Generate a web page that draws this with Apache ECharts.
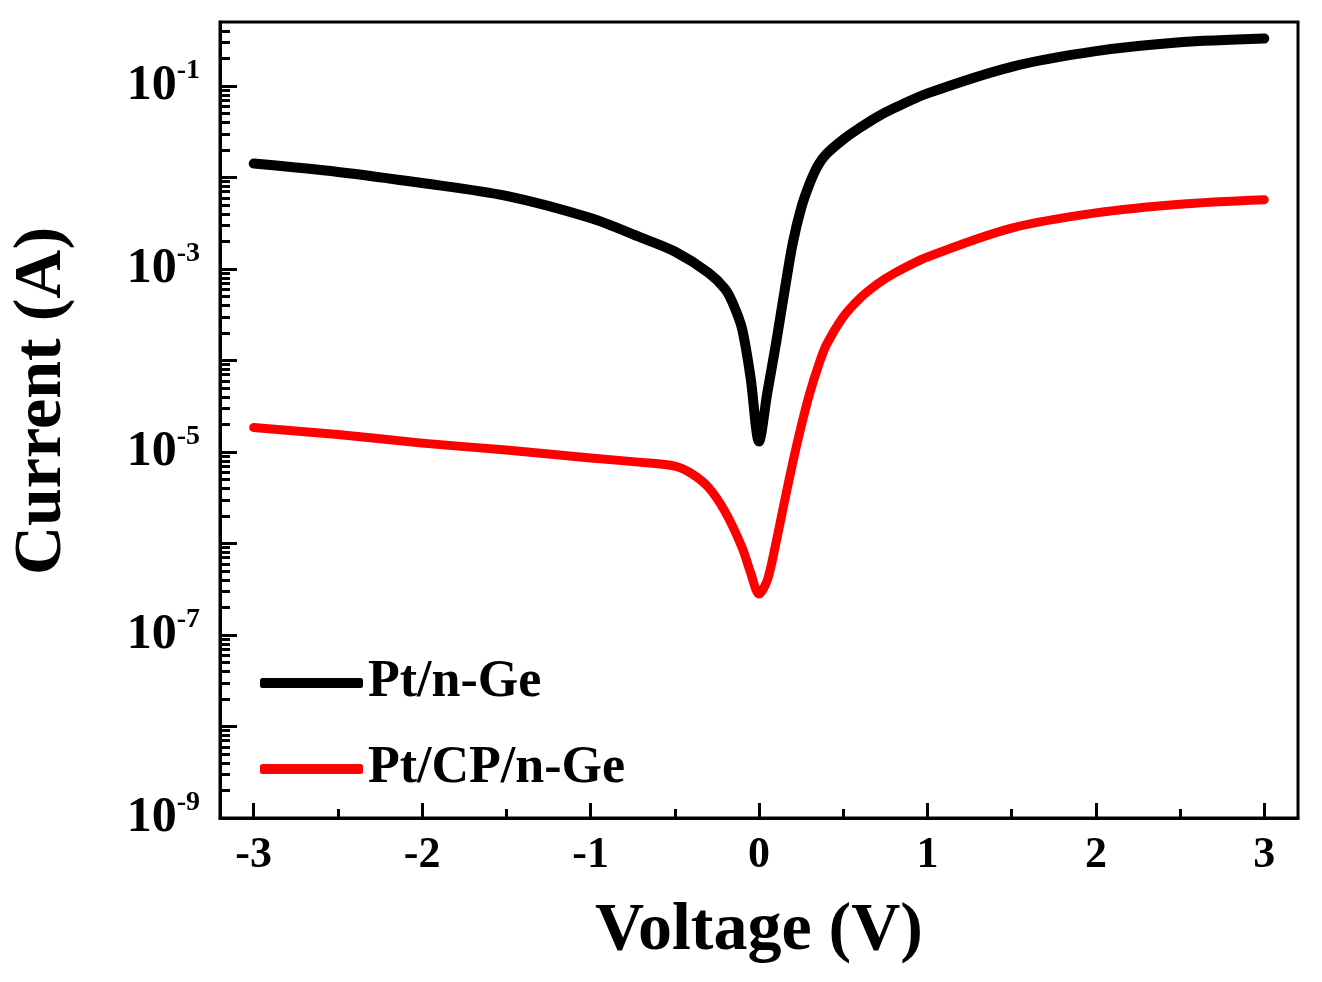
<!DOCTYPE html>
<html lang="en">
<head>
    <meta charset="UTF-8">
    <title>I-V curves</title>
    <script src="https://cdn.jsdelivr.net/npm/echarts@6/dist/echarts.min.js"></script>
    <style>
        html, body { margin: 0; padding: 0; background: #fff; }
        #main { width: 1322px; height: 982px; }
    </style>
</head>
<body>
<div id="main"></div>
<script>
    // Pt/n-Ge
    var voltageA = [-3, -2.5, -2, -1.5, -1, -0.7, -0.5, -0.3, -0.2, -0.15, -0.1, -0.05, 0,
        0.05, 0.1, 0.15, 0.2, 0.25, 0.3, 0.35, 0.4, 0.5, 0.6, 0.7, 0.8, 1, 1.5, 2, 2.5, 3];
    var currentA = [1.42e-2, 1.15e-2, 8.7e-3, 6.3e-3, 3.6e-3, 2.2e-3, 1.55e-3, 9.1e-4, 6.0e-4, 4.0e-4, 2.2e-4, 6.5e-5, 1.3e-5,
        4.5e-5, 1.5e-4, 5.5e-4, 1.9e-3, 4.6e-3, 8.5e-3, 1.35e-2, 1.8e-2, 2.6e-2, 3.5e-2, 4.57e-2, 5.7e-2, 8.3e-2, 0.162, 0.24, 0.30, 0.33];

    // Pt/CP/n-Ge
    var voltageB = [-3, -2.5, -2, -1.5, -1, -0.7, -0.5, -0.4, -0.3, -0.2, -0.1, -0.05, 0,
        0.05, 0.1, 0.15, 0.2, 0.25, 0.3, 0.35, 0.4, 0.5, 0.6, 0.7, 0.8, 1, 1.5, 2, 2.5, 3];
    var currentB = [1.85e-5, 1.55e-5, 1.25e-5, 1.05e-5, 8.6e-6, 7.7e-6, 7.0e-6, 5.8e-6, 4.1e-6, 2.2e-6, 9.0e-7, 4.8e-7, 2.8e-7,
        4.0e-7, 1.0e-6, 2.8e-6, 7.6e-6, 1.9e-5, 4.3e-5, 8.5e-5, 1.48e-4, 3.0e-4, 4.8e-4, 6.8e-4, 8.9e-4, 1.35e-3, 2.8e-3, 4.1e-3, 5.1e-3, 5.7e-3];

    var seriesNames = ['Pt/n-Ge', 'Pt/CP/n-Ge'];

    // ticks
    var xMajor = [-3, -2, -1, 0, 1, 2, 3];
    var xMinor = [-2.5, -1.5, -0.5, 0.5, 1.5, 2.5];
    var yMajor = [1e-9, 1e-8, 1e-7, 1e-6, 1e-5, 1e-4, 1e-3, 1e-2, 1e-1];
    var yLabels = [1e-9, 1e-7, 1e-5, 1e-3, 1e-1];
    var yMinor = [];
    for (let p = -9; p <= -1; p++) {
        for (let m = 2; m <= 9; m++) {
            let v = m * Math.pow(10, p);
            if (v < 0.5) yMinor.push(v);
        }
    }

    function pairs(xs, ys) {
        var out = [];
        for (let i = 0; i < xs.length; i++) out.push([xs[i], ys[i]]);
        return out;
    }

    var font = 'Liberation Serif';

    var chart = echarts.init(document.getElementById('main'));
    var option = {
        backgroundColor: '#fff',
        animation: false,
        grid: {
            left: 220, right: 24, top: 22, bottom: 164,
            outerBoundsMode: 'none', containLabel: false,
            show: true, borderColor: '#000', borderWidth: 3
        },
        legend: {
            left: 255, top: 652,
            orient: 'vertical',
            itemWidth: 103, itemHeight: 10, itemGap: 34,
            icon: 'roundRect',
            data: seriesNames,
            textStyle: { fontFamily: font, fontWeight: 'bold', fontSize: 52, lineHeight: 52, color: '#000' }
        },
        xAxis: [
            {
                type: 'value', min: -3.2, max: 3.2,
                name: 'Voltage (V)', nameLocation: 'middle', nameGap: 79,
                nameTextStyle: { fontFamily: font, fontWeight: 'bold', fontSize: 68, color: '#000' },
                axisLine: { onZero: false, lineStyle: { color: '#000', width: 3 } },
                axisTick: { inside: true, length: 15, customValues: xMajor, lineStyle: { color: '#000', width: 3 } },
                axisLabel: { customValues: xMajor, margin: 16, fontFamily: font, fontWeight: 'bold', fontSize: 44, color: '#000' },
                splitLine: { show: false }
            },
            {
                type: 'value', min: -3.2, max: 3.2, position: 'bottom',
                axisLine: { show: false, onZero: false },
                axisTick: { inside: true, length: 9, customValues: xMinor, lineStyle: { color: '#000', width: 3 } },
                axisLabel: { show: false },
                splitLine: { show: false }
            }
        ],
        yAxis: [
            {
                type: 'log', logBase: 10, min: 1e-9, max: 0.5,
                name: 'Current (A)', nameLocation: 'middle', nameGap: 144,
                nameTextStyle: { fontFamily: font, fontWeight: 'bold', fontSize: 68, color: '#000', padding: [0, 0, 0, 38] },
                axisLine: { onZero: false, lineStyle: { color: '#000', width: 3 } },
                axisTick: { inside: true, length: 17, customValues: yMajor, lineStyle: { color: '#000', width: 3 } },
                axisLabel: {
                    customValues: yLabels, margin: 20,
                    formatter: function (v) {
                        return '{b|10}{s|' + Math.round(Math.log10(v)) + '}';
                    },
                    rich: {
                        b: { fontFamily: font, fontWeight: 'bold', fontSize: 50, color: '#000' },
                        s: { fontFamily: font, fontWeight: 'bold', fontSize: 28, color: '#000', verticalAlign: 'top', padding: [0, 0, 30, 0] }
                    }
                },
                splitLine: { show: false }
            },
            {
                type: 'log', logBase: 10, min: 1e-9, max: 0.5, position: 'left',
                axisLine: { show: false, onZero: false },
                axisTick: { inside: true, length: 10, customValues: yMinor, lineStyle: { color: '#000', width: 3 } },
                axisLabel: { show: false },
                splitLine: { show: false }
            }
        ],
        series: [
            {
                name: seriesNames[0], type: 'line', data: pairs(voltageA, currentA),
                xAxisIndex: 0, yAxisIndex: 0,
                showSymbol: false, symbol: 'none', smooth: 0.3,
                lineStyle: { color: '#000', width: 10, cap: 'round', join: 'round' },
                itemStyle: { color: '#000' }
            },
            {
                name: seriesNames[1], type: 'line', data: pairs(voltageB, currentB),
                xAxisIndex: 0, yAxisIndex: 0,
                showSymbol: false, symbol: 'none', smooth: 0.3,
                lineStyle: { color: '#ff0000', width: 9, cap: 'round', join: 'round' },
                itemStyle: { color: '#ff0000' }
            }
        ]
    };
    chart.setOption(option);
</script>
</body>
</html>
